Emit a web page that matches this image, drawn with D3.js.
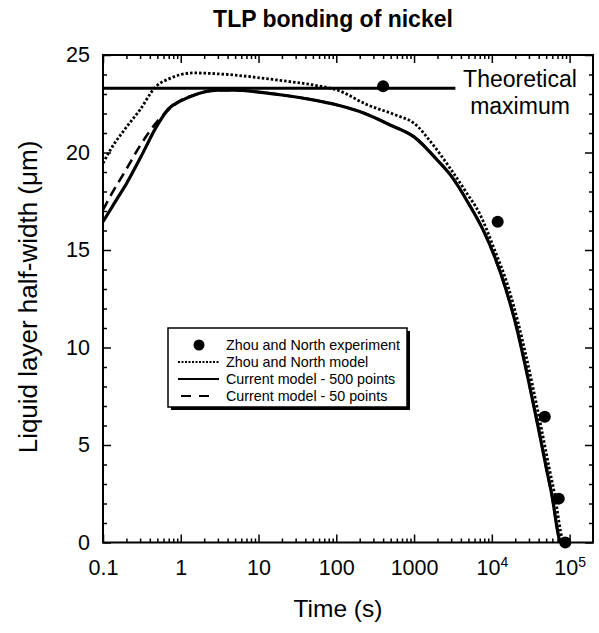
<!DOCTYPE html>
<html>
<head>
<meta charset="utf-8">
<script src="https://cdn.jsdelivr.net/npm/d3@7"></script>
<style>
  html, body { margin: 0; padding: 0; background: #fff; }
  svg { display: block; font-family: "Liberation Sans", Arial, Helvetica, sans-serif; }
</style>
</head>
<body>
<svg id="chart" width="599" height="633"></svg>
<script>
// ---- data ----
const expTime   = [400, 11900, 48000, 72600, 88000];
const expWidth  = [23.4, 16.45, 6.45, 2.25, 0];

const znTime  = [0.1, 0.123, 0.2, 0.3, 0.47, 0.73, 1.45, 4, 17, 60, 100, 250, 600, 1000, 1750, 2900, 4700, 7000, 10400, 16400, 21800, 32700, 43600, 54500, 65400, 76300, 82000];
const znWidth = [19.45, 20.1, 21.3, 22.2, 23.35, 23.8, 24.08, 24.0, 23.72, 23.41, 23.22, 22.45, 21.9, 21.5, 20.4, 19.2, 17.95, 16.85, 15.2, 13.05, 11.27, 8.22, 5.8, 3.85, 2.3, 0.6, 0];

const m500Time  = [0.1, 0.15, 0.2, 0.3, 0.5, 0.7, 1, 1.5, 2, 3, 5, 10, 20, 50, 100, 200, 500, 1000, 2000, 3000, 5000, 8000, 11000, 15000, 20000, 30000, 40000, 50000, 60000, 70000, 75000];
const m500Width = [16.45, 17.6, 18.4, 19.7, 21.4, 22.25, 22.65, 22.95, 23.1, 23.2, 23.2, 23.1, 22.95, 22.7, 22.45, 22.1, 21.4, 20.8, 19.6, 18.8, 17.4, 15.9, 14.6, 13.05, 11.3, 8.2, 5.8, 3.85, 2.3, 0.6, 0];

const m50Time  = [0.1, 0.123, 0.2, 0.3, 0.5, 0.8, 1, 1.5, 2, 3, 5, 10, 20, 50, 100, 200, 500, 1000, 2000, 3000, 5000, 8000, 11000, 15000, 20000, 30000, 40000, 50000, 60000, 70000, 75000];
const m50Width = [17.05, 17.73, 19.15, 20.35, 21.6, 22.4, 22.68, 22.95, 23.1, 23.2, 23.2, 23.1, 22.95, 22.7, 22.45, 22.1, 21.4, 20.8, 19.6, 18.8, 17.4, 15.9, 14.6, 13.05, 11.3, 8.2, 5.8, 3.85, 2.3, 0.6, 0];

const theoMax = 23.3;
const theoEnd = 3400;
const xTicks = [0.1, 1, 10, 100, 1000, 1e4, 1e5];
const xTickLabels = ["0.1", "1", "10", "100", "1000", "10|4", "10|5"];
const yTicks = [0, 5, 10, 15, 20, 25];
const legendLabels = ["Zhou and North experiment", "Zhou and North model", "Current model - 500 points", "Current model - 50 points"];

// ---- layout ----
const L = 103, R = 593, T = 55, B = 542.5;
const svg = d3.select("#chart");
const x = d3.scaleLog().domain([0.1, 2e5]).range([L, R]);
const y = d3.scaleLinear().domain([0, 25]).range([B, T]);

// minor ticks
const xMinor = [];
for (let e = -1; e <= 5; e++) for (let k = 2; k <= 9; k++) { const v = k * Math.pow(10, e); if (v < 2e5) xMinor.push(v); }
const yMinor = d3.range(0, 26, 1).filter(v => v % 5 !== 0);

// clip
svg.append("defs").append("clipPath").attr("id", "clip")
  .append("rect").attr("x", L).attr("y", T).attr("width", R - L).attr("height", B - T);

// axes
function styleAxis(g) { g.select(".domain").remove(); g.selectAll("line").attr("stroke", "#000").attr("stroke-width", 1.5); }

const xAxisB = svg.append("g").attr("transform", `translate(0,${B})`)
  .call(d3.axisBottom(x).tickValues(xTicks).tickSizeInner(-8).tickSizeOuter(0).tickPadding(17).tickFormat((d, i) => xTickLabels[i]));
styleAxis(xAxisB);
xAxisB.selectAll("text").attr("font-size", 21.5).attr("fill", "#000").attr("font-family", "Liberation Sans, Arial, sans-serif")
  .each(function (d, i) {
    const lab = xTickLabels[i];
    if (lab.includes("|")) {
      const [base, sup] = lab.split("|");
      const t = d3.select(this).text(base);
      t.append("tspan").attr("font-size", 14).attr("dy", "-0.55em").text(sup);
    }
  });
svg.append("g").attr("transform", `translate(0,${B})`)
  .call(d3.axisBottom(x).tickValues(xMinor).tickSizeInner(-4).tickSizeOuter(0).tickFormat(""))
  .call(styleAxis);
svg.append("g").attr("transform", `translate(0,${T})`)
  .call(d3.axisTop(x).tickValues(xTicks).tickSizeInner(-8).tickSizeOuter(0).tickFormat(""))
  .call(styleAxis);
svg.append("g").attr("transform", `translate(0,${T})`)
  .call(d3.axisTop(x).tickValues(xMinor).tickSizeInner(-4).tickSizeOuter(0).tickFormat(""))
  .call(styleAxis);

const yAxisL = svg.append("g").attr("transform", `translate(${L},0)`)
  .call(d3.axisLeft(y).tickValues(yTicks).tickSizeInner(-8).tickSizeOuter(0).tickPadding(13));
styleAxis(yAxisL);
yAxisL.selectAll("text").attr("font-size", 21.5).attr("fill", "#000").attr("font-family", "Liberation Sans, Arial, sans-serif");
svg.append("g").attr("transform", `translate(${L},0)`)
  .call(d3.axisLeft(y).tickValues(yMinor).tickSizeInner(-4).tickSizeOuter(0).tickFormat(""))
  .call(styleAxis);
svg.append("g").attr("transform", `translate(${R},0)`)
  .call(d3.axisRight(y).tickValues(yTicks).tickSizeInner(-8).tickSizeOuter(0).tickFormat(""))
  .call(styleAxis);
svg.append("g").attr("transform", `translate(${R},0)`)
  .call(d3.axisRight(y).tickValues(yMinor).tickSizeInner(-4).tickSizeOuter(0).tickFormat(""))
  .call(styleAxis);

// frame
svg.append("rect").attr("x", L).attr("y", T).attr("width", R - L).attr("height", B - T)
  .attr("fill", "none").attr("stroke", "#000").attr("stroke-width", 2);

// lines
const plot = svg.append("g").attr("clip-path", "url(#clip)");
function series(ts, ws) { return ts.map((t, i) => [t, ws[i]]); }
const line = d3.line().x(d => x(d[0])).y(d => y(d[1])).curve(d3.curveMonotoneX);

plot.append("line").attr("x1", x(0.1)).attr("x2", x(theoEnd)).attr("y1", y(theoMax)).attr("y2", y(theoMax))
  .attr("stroke", "#000").attr("stroke-width", 3);

plot.append("path").datum(series(znTime, znWidth)).attr("d", line)
  .attr("fill", "none").attr("stroke", "#000").attr("stroke-width", 2.8).attr("stroke-dasharray", "2.5,2");
plot.append("path").datum(series(m50Time, m50Width)).attr("d", line)
  .attr("fill", "none").attr("stroke", "#000").attr("stroke-width", 2.6).attr("stroke-dasharray", "10,6");
plot.append("path").datum(series(m500Time, m500Width)).attr("d", line)
  .attr("fill", "none").attr("stroke", "#000").attr("stroke-width", 3.2);

svg.append("g").selectAll("circle").data(series(expTime, expWidth)).join("circle")
  .attr("cx", d => x(d[0])).attr("cy", d => y(d[1])).attr("r", 6).attr("fill", "#000");

// theoretical max label
const tl = svg.append("text").attr("x", 520).attr("y", 87).attr("text-anchor", "middle")
  .attr("font-size", 23).attr("fill", "#000");
tl.append("tspan").attr("x", 520).text("Theoretical");
tl.append("tspan").attr("x", 520).attr("dy", 26.5).text("maximum");

// legend
const lg = svg.append("g");
const lx = 168, ly = 328, lw = 239, lh = 79;
lg.append("rect").attr("x", lx + 3).attr("y", ly + 3).attr("width", lw).attr("height", lh).attr("fill", "#000");
lg.append("rect").attr("x", lx).attr("y", ly).attr("width", lw).attr("height", lh).attr("fill", "#fff").attr("stroke", "#000").attr("stroke-width", 1.5);
const rowY = [345, 362, 379, 396];
lg.append("circle").attr("cx", 199).attr("cy", rowY[0]).attr("r", 5.5).attr("fill", "#000");
lg.append("line").attr("x1", 178).attr("x2", 219).attr("y1", rowY[1]).attr("y2", rowY[1]).attr("stroke", "#000").attr("stroke-width", 2.2).attr("stroke-dasharray", "2,1.5");
lg.append("line").attr("x1", 178).attr("x2", 219).attr("y1", rowY[2]).attr("y2", rowY[2]).attr("stroke", "#000").attr("stroke-width", 2.2);
lg.append("line").attr("x1", 181).attr("x2", 217).attr("y1", rowY[3]).attr("y2", rowY[3]).attr("stroke", "#000").attr("stroke-width", 2.2).attr("stroke-dasharray", "10,8");
lg.selectAll("text.leg").data(legendLabels).join("text").attr("class", "leg")
  .attr("x", 226).attr("y", (d, i) => rowY[i] + 5).attr("font-size", 14.3).attr("fill", "#000").text(d => d);

// titles
svg.append("text").attr("x", 333).attr("y", 27).attr("text-anchor", "middle")
  .attr("font-size", 23).attr("font-weight", "bold").text("TLP bonding of nickel");
svg.append("text").attr("x", 338).attr("y", 617).attr("text-anchor", "middle")
  .attr("font-size", 24.5).text("Time (s)");
svg.append("text").attr("transform", "translate(37,297) rotate(-90)").attr("text-anchor", "middle")
  .attr("font-size", 26).text("Liquid layer half-width (μm)");
</script>
</body>
</html>
